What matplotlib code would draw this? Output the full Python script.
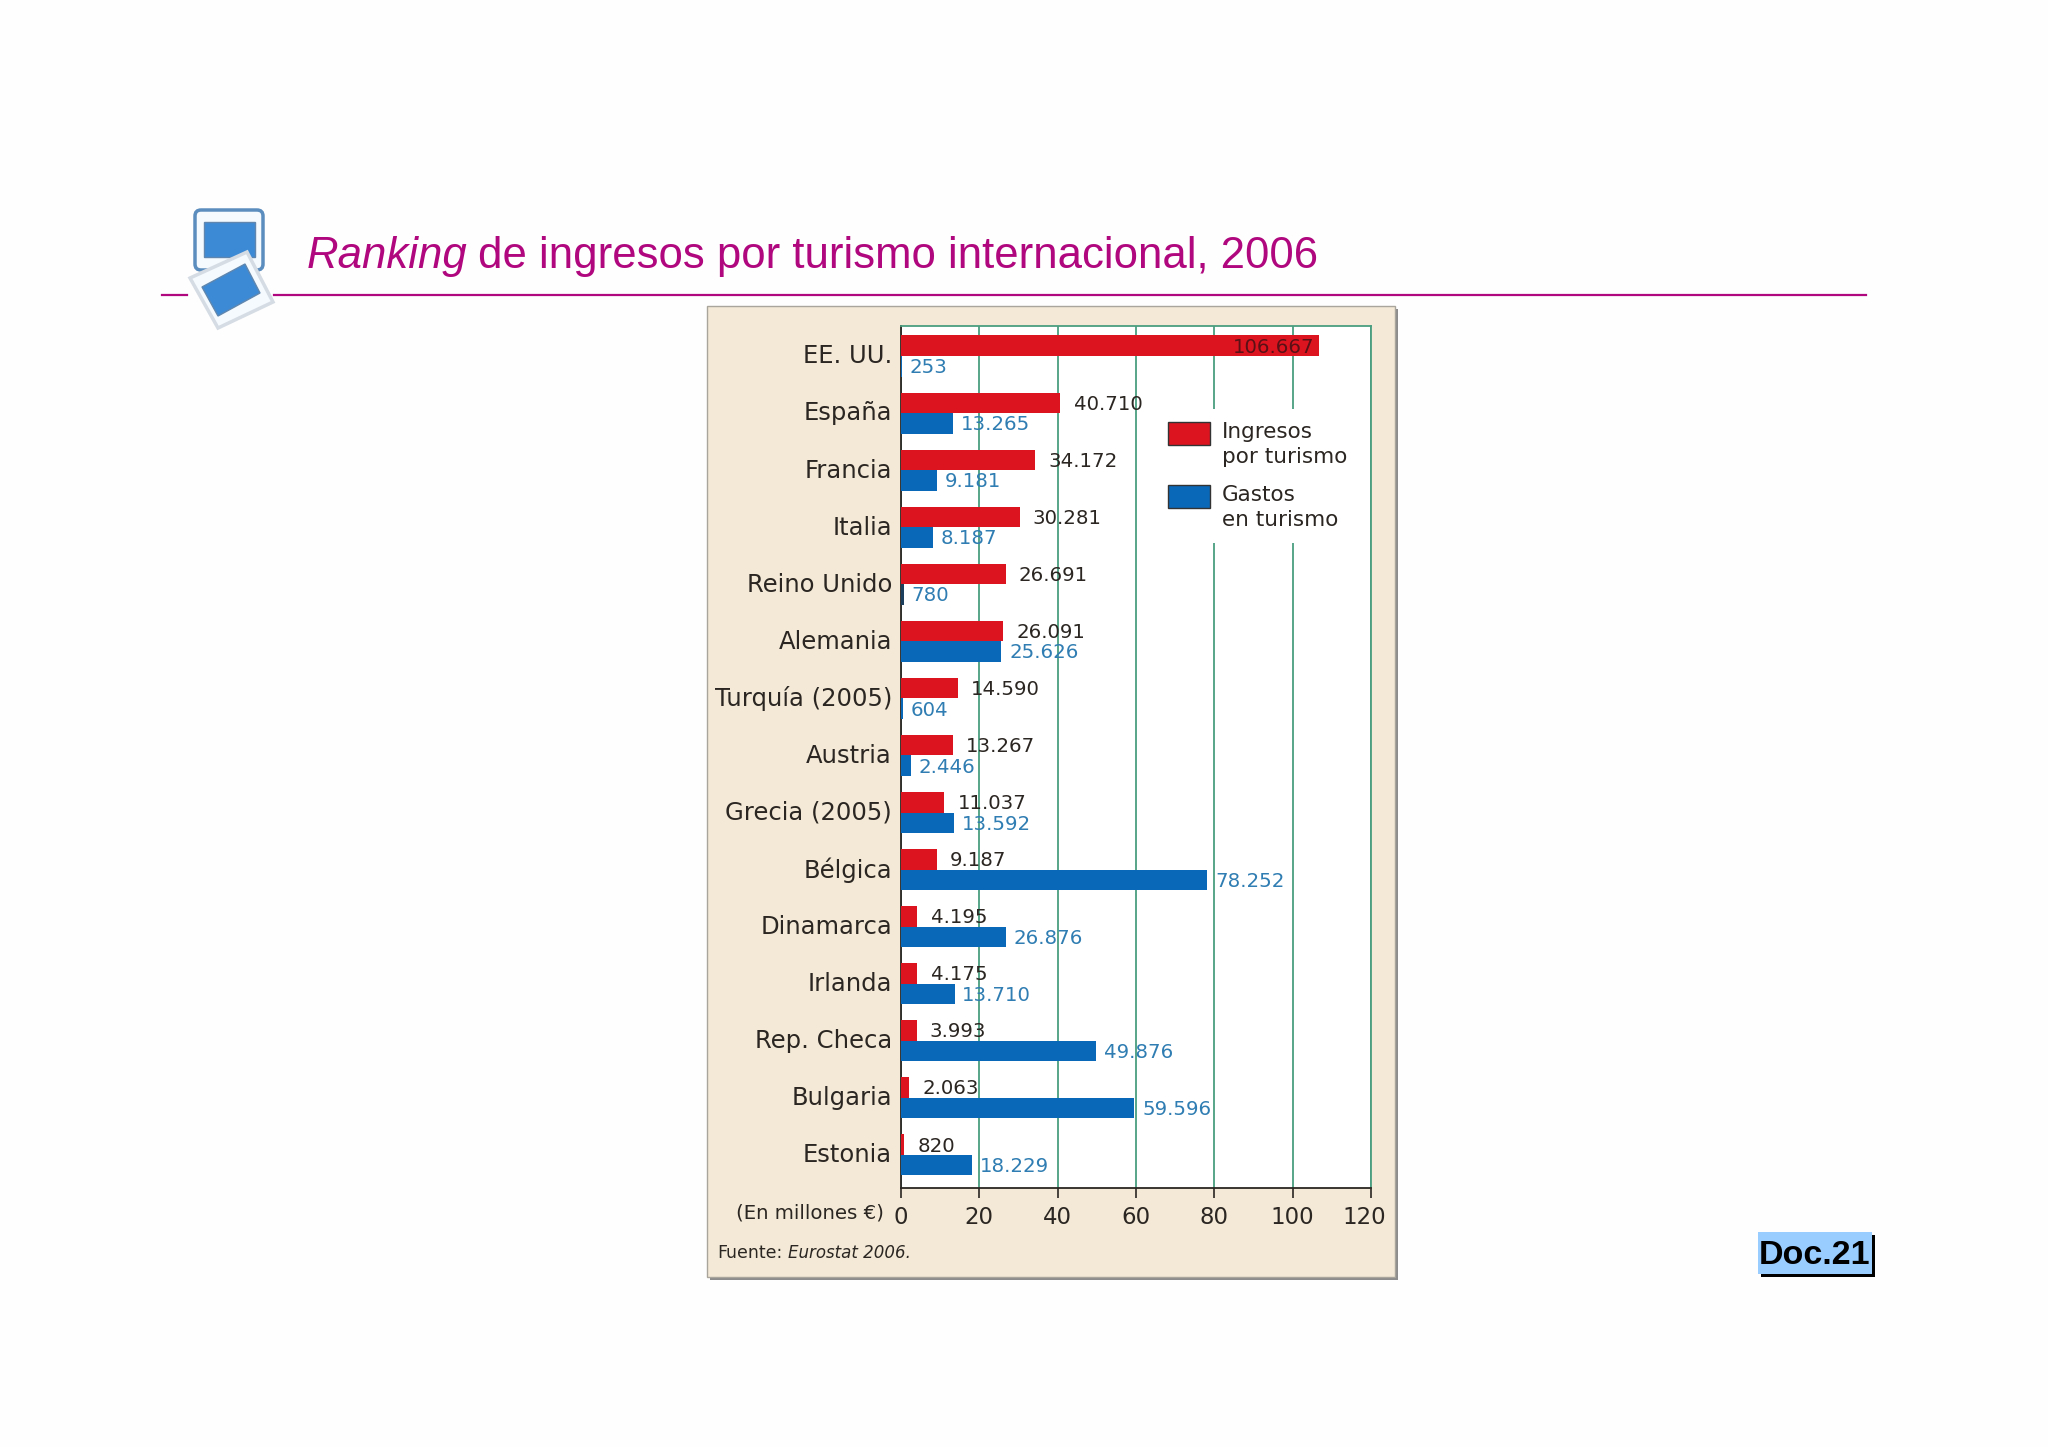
import matplotlib
matplotlib.use("Agg")
import matplotlib.pyplot as plt
from matplotlib.legend_handler import HandlerPatch
from matplotlib.patches import Rectangle, Polygon, FancyBboxPatch, Patch
from matplotlib.transforms import ScaledTranslation

W, H = 2048, 1447

paises = ["EE. UU.", "España", "Francia", "Italia", "Reino Unido", "Alemania", "Turquía (2005)",
          "Austria", "Grecia (2005)", "Bélgica", "Dinamarca", "Irlanda", "Rep. Checa", "Bulgaria", "Estonia"]
ingresos = [106667, 40710, 34172, 30281, 26691, 26091, 14590, 13267, 11037, 9187, 4195, 4175, 3993, 2063, 820]
gastos = [253, 13265, 9181, 8187, 780, 25626, 604, 2446, 13592, 78252, 26876, 13710, 49876, 59596, 18229]
ticks_x = [0, 20, 40, 60, 80, 100, 120]

ROJO = "#DC1420"
AZUL = "#0A68B8"
VERDE = "#4A9E80"
MAGENTA = "#B0077F"
TEXTO = "#2B2622"
TEXTO_AZUL = "#2F7DB2"


def fmt(v):
    # punto como separador de miles
    return f"{v:,}".replace(",", ".")


def parche_arriba(legend, orig_handle, xdescent, ydescent, width, height, fontsize):
    # el cuadro de color va alineado con la primera linea del texto
    return Rectangle((-xdescent, -ydescent + 0.55 * fontsize), width, height)


fig = plt.figure(figsize=(W / 100, H / 100), dpi=100, facecolor="#FEFEFE")

# fondo de la diapositiva, en pixeles
bg = fig.add_axes([0, 0, 1, 1])
bg.set_xlim(0, W)
bg.set_ylim(H, 0)
bg.axis("off")

bg.plot([162, 187], [294.5, 294.5], color=MAGENTA, lw=1.6)
bg.plot([274, 1866], [294.5, 294.5], color=MAGENTA, lw=1.6)

# icono
bg.add_patch(FancyBboxPatch((197, 212), 64, 56, boxstyle="round,pad=2,rounding_size=6",
                            fc="#F4FAFE", ec="#5B8DBE", lw=2.5))
bg.add_patch(Rectangle((204, 222), 51, 35, fc="#3C8AD6", ec="#5E86AE", lw=1))
bg.add_patch(Polygon([(190, 278), (247, 252), (273, 302), (218, 328)], fc="#F4FAFE", ec="#D5DCE4", lw=2.5))
bg.add_patch(Polygon([(202, 287), (245, 264), (260, 293), (218, 316)], fc="#3C8AD6", ec="#5E86AE", lw=1))

bg.text(307, 256.5, "Ranking", color=MAGENTA, fontsize=31.5, family="Liberation Sans", style="italic", va="center")
bg.text(478, 256.5, "de ingresos por turismo internacional, 2006", color=MAGENTA, fontsize=31.5,
        family="Liberation Sans", va="center")

# panel beige con sombra
bg.add_patch(Rectangle((710, 309), 688, 971, fc="#8C8C8C", ec="none"))
bg.add_patch(Rectangle((707, 306), 688, 971, fc="#F3E9D6", ec="#A9A59C", lw=1))

bg.text(884, 1213, "(En millones €)", color=TEXTO, fontsize=14.2, ha="right", va="center")
bg.text(717, 1253.5, "Fuente:", color=TEXTO, fontsize=12.5, va="center")
bg.text(788, 1253.5, "Eurostat 2006.", color=TEXTO, fontsize=12, style="italic", va="center")

# recuadro Doc.21
bg.add_patch(Rectangle((1761, 1235), 114, 42, fc="#000000", ec="none"))
bg.add_patch(Rectangle((1758, 1232), 114, 42, fc="#99CCFF", ec="none"))
bg.text(1815, 1255.5, "Doc.21", color="black", fontsize=24.5, family="Liberation Sans", weight="bold",
        ha="center", va="center")

# grafico de barras
ax_left, ax_right, ax_top, ax_bottom = 901, 1371, 326, 1188
ax = fig.add_axes([ax_left / W, 1 - ax_bottom / H, (ax_right - ax_left) / W, (ax_bottom - ax_top) / H])
ax.set_facecolor("white")

pos = list(range(len(paises)))
alto = 0.36
ax.barh([p - alto / 2 for p in pos], [v / 1000 for v in ingresos], height=alto, color=ROJO, zorder=3)
colores_gastos = ["#1D3F5E" if p == "Reino Unido" else AZUL for p in paises]
ax.barh([p + alto / 2 for p in pos], [v / 1000 for v in gastos], height=alto, color=colores_gastos, zorder=3)

ax.set_xlim(0, 120)
ax.set_ylim(14.58, -0.526)
ax.set_xticks(ticks_x)
ax.set_yticks(pos)
ax.set_yticklabels(paises, fontsize=17.5, color=TEXTO)
ax.tick_params(axis="y", length=0, pad=6.5)
ax.tick_params(axis="x", length=7, width=1.2, color=TEXTO, labelsize=16.5, labelcolor=TEXTO, pad=6)
ax.grid(axis="x", color=VERDE, lw=1.3, zorder=1)
ax.set_axisbelow(True)

# nombres un poco mas arriba y el 120 corrido a la izquierda, como en el original
for lab in ax.get_yticklabels():
    lab.set_transform(lab.get_transform() + ScaledTranslation(0, 1.5 / 72, fig.dpi_scale_trans))
ultimo = ax.get_xticklabels()[-1]
ultimo.set_transform(ultimo.get_transform() + ScaledTranslation(-5 / 72, 0, fig.dpi_scale_trans))

for s in ["top", "right"]:
    ax.spines[s].set_color(VERDE)
    ax.spines[s].set_linewidth(1.3)
for s in ["left", "bottom"]:
    ax.spines[s].set_color(TEXTO)
    ax.spines[s].set_linewidth(1.3)
    ax.spines[s].set_zorder(2.5)

for p, v in zip(pos, ingresos):
    if v > 100000:
        # el de EE. UU. va dentro de la barra
        ax.annotate(fmt(v), (v / 1000, p - alto / 2), xytext=(-3, -1), textcoords="offset points",
                    ha="right", va="center", fontsize=14.2, color="#5A1015", zorder=5)
    else:
        ax.annotate(fmt(v), (v / 1000, p - alto / 2), xytext=(9.5, -1), textcoords="offset points",
                    ha="left", va="center", fontsize=14.2, color=TEXTO, zorder=5)
for p, v in zip(pos, gastos):
    ax.annotate(fmt(v), (v / 1000, p + alto / 2), xytext=(5.5, -1), textcoords="offset points",
                ha="left", va="center", fontsize=14.2, color=TEXTO_AZUL, zorder=5)

handles = [Patch(fc=ROJO, ec="#333333", lw=1), Patch(fc=AZUL, ec="#333333", lw=1)]
leg = ax.legend(handles, ["Ingresos\npor turismo", "Gastos\nen turismo"], fontsize=15.5,
                loc="center", bbox_to_anchor=((1258 - ax_left) / (ax_right - ax_left), 1 - (476 - ax_top) / (ax_bottom - ax_top)),
                frameon=True, facecolor="white", edgecolor="none", framealpha=1, fancybox=False,
                handlelength=1.95, handleheight=1.3, handletextpad=0.55, labelspacing=0.82,
                labelcolor=TEXTO, borderpad=0.6, borderaxespad=0,
                handler_map={Patch: HandlerPatch(patch_func=parche_arriba)})
leg.set_zorder(2)
for t in leg.get_texts():
    t.set_linespacing(1.35)

fig.savefig("out.png", dpi=100, facecolor=fig.get_facecolor())
